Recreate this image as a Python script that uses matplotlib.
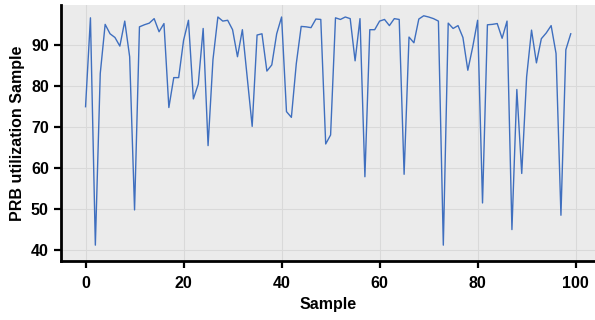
import numpy as np
import matplotlib.pyplot as plt

# PRB utilization per sample
prb_util = [
    75.0, 96.7, 41.2, 83.1, 95.1, 92.8, 91.9, 89.8, 95.9, 87.2,
    49.8, 94.5, 95.0, 95.4, 96.5, 93.3, 95.3, 74.8, 82.1, 82.1,
    91.2, 96.1, 76.9, 80.5, 94.1, 65.5, 86.5, 96.9, 95.9, 96.1,
    93.8, 87.2, 93.8, 82.0, 70.2, 92.5, 92.8, 83.7, 85.2, 92.8,
    96.9, 73.8, 72.4, 85.5, 94.6, 94.5, 94.3, 96.4, 96.3, 65.9,
    68.1, 96.7, 96.3, 96.9, 96.5, 86.2, 96.5, 57.9, 93.8, 93.8,
    95.9, 96.3, 94.8, 96.5, 96.3, 58.5, 92.0, 90.6, 96.4, 97.2,
    96.9, 96.5, 95.9, 41.2, 95.4, 94.1, 94.8, 91.9, 83.9, 89.6,
    96.1, 51.5, 95.0, 95.1, 95.3, 91.7, 95.9, 45.0, 79.2, 58.7,
    82.3, 93.7, 85.7, 91.6, 93.0, 94.8, 88.0, 48.5, 88.9, 92.8,
]
samples = np.arange(len(prb_util))

x_ticks = [0, 20, 40, 60, 80, 100]
y_ticks = [40, 50, 60, 70, 80, 90]

plt.rcParams['font.family'] = ['Liberation Sans', 'DejaVu Sans']

fig = plt.figure(figsize=(5.95, 3.2), dpi=100)
ax = fig.add_axes([0.103, 0.184, 0.897, 0.800])
ax.set_facecolor('#ebebeb')

ax.plot(samples, prb_util, color='#3f6fbf', linewidth=1.0)

ax.set_xticks(x_ticks)
ax.set_yticks(y_ticks)
ax.set_ylim(37.3, 99.8)
ax.grid(True, color='#d9d9d9', linewidth=0.8)
ax.set_axisbelow(True)

for side in ['top', 'right']:
    ax.spines[side].set_visible(False)
for side in ['left', 'bottom']:
    ax.spines[side].set_linewidth(2.0)
    ax.spines[side].set_color('black')

ax.tick_params(axis='both', length=5, width=1.6, labelsize=11.5, pad=4)
ax.tick_params(axis='x', pad=6)
for lbl in ax.get_xticklabels() + ax.get_yticklabels():
    lbl.set_fontweight('bold')

ax.set_xlabel('Sample', fontsize=11.5, fontweight='bold', labelpad=4)
ax.set_ylabel('PRB utilization Sample', fontsize=11.5, fontweight='bold', labelpad=4)

fig.savefig('out.png', dpi=100)
